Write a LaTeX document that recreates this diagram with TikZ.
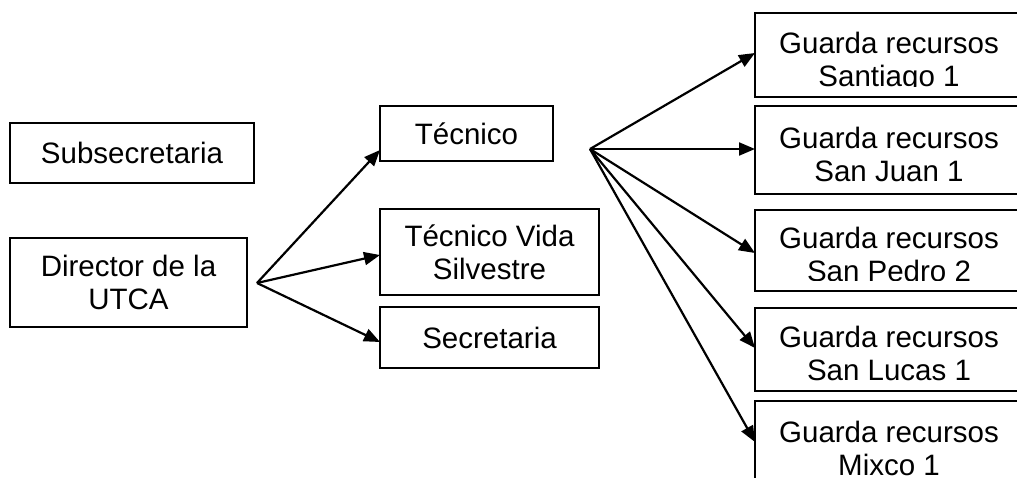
\documentclass[tikz,border=0pt]{standalone}
\usepackage{fontspec}
\setmainfont{Liberation Sans}
\usetikzlibrary{arrows.meta}
\begin{document}
\begin{tikzpicture}[x=1pt,y=-1pt,
 box/.style={draw,line width=2.2pt,rectangle,inner sep=0pt,outer sep=0pt,align=center,font=\fontsize{29.5}{33}\selectfont},
 lbl/.style={inner sep=0pt,outer sep=0pt,align=center,anchor=north,font=\fontsize{29.5}{33}\selectfont},
 arr/.style={line width=2.2pt,-{Triangle[length=16pt,width=13pt]}}]
\useasboundingbox (0,0) rectangle (1017,478);
\clip (0,0) rectangle (1017,478);
\node[box,minimum width=244pt,minimum height=60pt] (sub) at (132,153) {Subsecretaria};
\node[box,minimum width=237pt,minimum height=89pt] (dir) at (128.5,282.5) {Director de la\\UTCA};
\node[box,minimum width=173pt,minimum height=55pt] (tec) at (466.5,133.5) {Técnico};
\node[box,minimum width=219pt,minimum height=86pt] (tvs) at (489.5,252) {Técnico Vida\\Silvestre};
\node[box,minimum width=219pt,minimum height=61pt] (sec) at (489.5,337.5) {Secretaria};
% guarda boxes
\node[box,minimum width=267pt,minimum height=84pt] (g1) at (888.5,55) {};
\node[box,minimum width=267pt,minimum height=88pt] (g2) at (888.5,150) {};
\node[box,minimum width=267pt,minimum height=81pt] (g3) at (888.5,250.5) {};
\node[box,minimum width=267pt,minimum height=83pt] (g4) at (888.5,349.5) {};
\node[box,minimum width=267pt,minimum height=90pt] (g5) at (888.5,446) {};
\begin{scope}
\clip (755,13) rectangle (1022,87);
\node[lbl] (t1) at (889,32) {Guarda recursos\\Santiago 1};
\end{scope}
\begin{scope}
\clip (755,106) rectangle (1022,184);
\node[lbl] (t2) at (889,127) {Guarda recursos\\San Juan 1};
\end{scope}
\begin{scope}
\clip (755,210) rectangle (1022,281);
\node[lbl] (t3) at (889,227) {Guarda recursos\\San Pedro 2};
\end{scope}
\begin{scope}
\clip (755,308) rectangle (1022,381);
\node[lbl] (t4) at (889,326) {Guarda recursos\\San Lucas 1};
\end{scope}
\node[lbl] (t5) at (889,421) {Guarda recursos\\Mixco 1};
% connectors
\coordinate (srcL) at (257,283);
\coordinate (srcR) at (590,149);
\draw[arr] (srcL) -- ([yshift=11pt]tec.south west);
\draw[arr] (srcL) -- ([yshift=-3pt]tvs.west);
\draw[arr] (srcL) -- ([yshift=-4.5pt]sec.west);
\draw[arr] (srcR) -- ([yshift=2pt]g1.west);
\draw[arr] (srcR) -- ([yshift=1pt]g2.west);
\draw[arr] (srcR) -- ([yshift=-2.5pt]g3.west);
\draw[arr] (srcR) -- ([yshift=1.5pt]g4.west);
\draw[arr] (srcR) -- ([yshift=4pt]g5.west);
\end{tikzpicture}
\end{document}
